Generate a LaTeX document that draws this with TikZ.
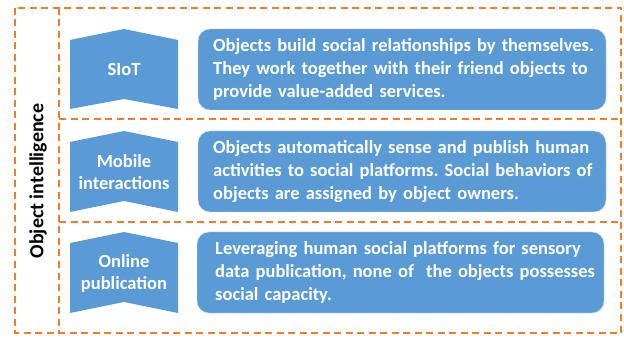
\documentclass[tikz,border=0pt]{standalone}
\usepackage{fontspec}
\setmainfont{Carlito}
\definecolor{boxblue}{HTML}{5B9BD5}
\definecolor{dashorange}{HTML}{ED7D31}

\begin{document}
\begin{tikzpicture}[x=1pt,y=-1pt,
    frame/.style={dashorange,line width=1.6pt,dash pattern=on 7pt off 4.5pt},
    label/.style={white,font=\bfseries\fontsize{18.5}{22}\selectfont,align=center},
    desc/.style={white,font=\bfseries\fontsize{18.5}{23}\selectfont\frenchspacing,align=left,text width=400pt,anchor=west,inner sep=0pt}]
    \useasboundingbox (0,0) rectangle (624,339);
    % frame
    \draw[frame] (15,8) rectangle (621,333);
    \draw[frame] (59,8) -- (59,333);
    \draw[frame] (59,119) -- (621,119);
    \draw[frame] (59,222) -- (621,222);
    \node[rotate=90,font=\bfseries\fontsize{20}{22}\selectfont] (intel) at (38,181) {Object intelligence};
    % chevrons
    \fill[boxblue] (70,40) -- (124,29) -- (178,40) -- (178,109) -- (124,99) -- (70,109) -- cycle;
    \fill[boxblue] (70,142) -- (124,131) -- (178,142) -- (178,212) -- (124,201) -- (70,212) -- cycle;
    \fill[boxblue] (70,243) -- (124,232) -- (178,243) -- (178,313) -- (124,302) -- (70,313) -- cycle;
    \node[label] (siot) at (124,70) {SIoT};
    \node[label] (mobile) at (124,172) {Mobile\\interactions};
    \node[label] (online) at (124,273) {Online\\publication};
    % descriptions
    \filldraw[boxblue,draw=black!15,rounded corners=12pt] (198,29) rectangle (606,110);
    \filldraw[boxblue,draw=black!15,rounded corners=12pt] (198,131) rectangle (606,212);
    \filldraw[boxblue,draw=black!15,rounded corners=12pt] (197,232) rectangle (604,313);
    \node[desc] (siotdesc) at (213,69.5) {Objects build social relationships by themselves.\\They work together with their friend objects to\\provide value-added services.};
    \node[desc] (mobiledesc) at (213,171.5) {Objects automatically sense and publish human\\activities to social platforms. Social behaviors of\\objects are assigned by object owners.};
    \node[desc] (onlinedesc) at (215,272.5) {Leveraging human social platforms for sensory\\data publication, none of\ \ the objects possesses\\social capacity.};
\end{tikzpicture}
\end{document}
